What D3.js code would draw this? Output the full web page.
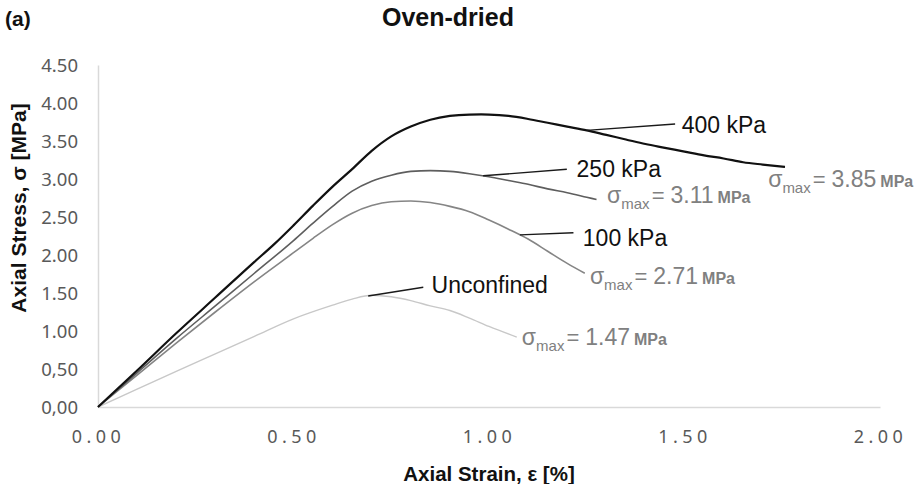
<!DOCTYPE html>
<html>
<head>
<meta charset="utf-8">
<script src="https://cdn.jsdelivr.net/npm/d3@7"></script>
<style>
  html, body { margin: 0; padding: 0; background: #fff; }
  svg { display: block; }
</style>
</head>
<body>
<svg id="chart" width="917" height="484"></svg>
<script>
// ---- data -------------------------------------------------------------
const seriesNames = ["400 kPa", "250 kPa", "100 kPa", "Unconfined"];
const peakStress = [3.85, 3.11, 2.71, 1.47];

const strain400 = [0, 0.1, 0.2, 0.3, 0.4, 0.45, 0.5, 0.55, 0.6, 0.65, 0.7, 0.75, 0.8, 0.85, 0.9, 0.95, 0.98, 1.0, 1.05, 1.1, 1.15, 1.2, 1.25, 1.3, 1.35, 1.4, 1.45, 1.5, 1.55, 1.6, 1.65, 1.7, 1.757];
const stress400 = [0, 0.48, 0.97, 1.44, 1.91, 2.14, 2.39, 2.65, 2.90, 3.13, 3.37, 3.56, 3.69, 3.78, 3.83, 3.848, 3.85, 3.848, 3.83, 3.79, 3.74, 3.69, 3.64, 3.58, 3.52, 3.46, 3.41, 3.36, 3.31, 3.27, 3.22, 3.19, 3.16];

const strain250 = [0, 0.1, 0.2, 0.3, 0.4, 0.5, 0.55, 0.6, 0.65, 0.7, 0.75, 0.8, 0.85, 0.9, 0.95, 1.0, 1.05, 1.1, 1.15, 1.2, 1.25, 1.275];
const stress250 = [0, 0.45, 0.90, 1.33, 1.76, 2.19, 2.42, 2.64, 2.84, 2.97, 3.05, 3.10, 3.11, 3.10, 3.07, 3.03, 2.98, 2.93, 2.87, 2.82, 2.76, 2.73];

const strain100 = [0, 0.1, 0.2, 0.3, 0.4, 0.5, 0.55, 0.6, 0.65, 0.7, 0.75, 0.8, 0.85, 0.9, 0.95, 1.0, 1.05, 1.1, 1.15, 1.2, 1.245];
const stress100 = [0, 0.42, 0.84, 1.25, 1.65, 2.03, 2.22, 2.40, 2.55, 2.65, 2.70, 2.71, 2.69, 2.64, 2.57, 2.46, 2.34, 2.21, 2.05, 1.89, 1.76];

const strainUnc = [0, 0.1, 0.2, 0.3, 0.4, 0.5, 0.6, 0.65, 0.7, 0.75, 0.8, 0.85, 0.9, 0.95, 1.0, 1.071];
const stressUnc = [0, 0.235, 0.47, 0.70, 0.93, 1.16, 1.34, 1.42, 1.47, 1.45, 1.40, 1.33, 1.27, 1.17, 1.06, 0.92];

const xTickValues = [0, 0.5, 1.0, 1.5, 2.0];
const xTickLabels = ["0.00", "0.50", "1.00", "1.50", "2.00"];
const yTickValues = [0, 0.5, 1.0, 1.5, 2.0, 2.5, 3.0, 3.5, 4.0, 4.5];
const yTickLabels = ["0,00", "0,50", "1.00", "1.50", "2.00", "2.50", "3.00", "3.50", "4.00", "4.50"];

// ---- layout / style ---------------------------------------------------
const plot = { left: 98, right: 880, top: 65, bottom: 407 };
const seriesStyle = [
  { color: "#111111", width: 2.2 },
  { color: "#5e5e5e", width: 1.6 },
  { color: "#858585", width: 1.6 },
  { color: "#c8c8c8", width: 1.4 }
];
// label / leader placement in data units
const nameLabelPos = [[1.493, 3.605], [1.224, 3.030], [1.240, 2.118], [0.853, 1.504]];
const leaderFromStrain = [1.25, 0.985, 1.079, 0.691];
const leaderTo = [[1.476, 3.724], [1.199, 3.128], [1.216, 2.293], [0.832, 1.575]];
const peakLabelPos = [[1.714, 2.895], [1.302, 2.690], [1.258, 1.618], [1.084, 0.816]];

const labelFont = "'Noto Sans', 'Liberation Sans', sans-serif";
const textFont = "'Liberation Sans', Arial, sans-serif";

// ---- build ------------------------------------------------------------
const strains = [strain400, strain250, strain100, strainUnc];
const stresses = [stress400, stress250, stress100, stressUnc];
const series = seriesNames.map((name, i) => ({
  name,
  peak: peakStress[i],
  points: strains[i].map((s, j) => [s, stresses[i][j]])
}));

const svg = d3.select("#chart");
const x = d3.scaleLinear().domain([0, 2]).range([plot.left, plot.right]);
const y = d3.scaleLinear().domain([0, 4.5]).range([plot.bottom, plot.top]);

// axes
const xAxis = d3.axisBottom(x).tickValues(xTickValues)
  .tickFormat((d, i) => xTickLabels[i]).tickSize(0).tickSizeOuter(0).tickPadding(23);
const yAxis = d3.axisLeft(y).tickValues(yTickValues)
  .tickFormat((d, i) => yTickLabels[i]).tickSize(0).tickSizeOuter(0).tickPadding(20);

const gx = svg.append("g").attr("transform", `translate(0,${plot.bottom})`).call(xAxis);
const gy = svg.append("g").attr("transform", `translate(${plot.left},0)`).call(yAxis);
[gx, gy].forEach(g => {
  g.select(".domain").attr("stroke", "#d9d9d9").attr("stroke-width", 1.5);
  g.selectAll("text").attr("fill", "#595959").attr("font-family", labelFont);
});
gx.selectAll("text").attr("font-size", 18).attr("letter-spacing", 4.5);
gy.selectAll("text").attr("font-size", 18.5).attr("dy", "0.36em");

// curves
const line = d3.line().x(d => x(d[0])).y(d => y(d[1])).curve(d3.curveMonotoneX);
svg.append("g").selectAll("path")
  .data(series.slice().reverse())
  .join("path")
  .attr("d", d => line(d.points))
  .attr("fill", "none")
  .attr("stroke", d => seriesStyle[seriesNames.indexOf(d.name)].color)
  .attr("stroke-width", d => seriesStyle[seriesNames.indexOf(d.name)].width)
  .attr("stroke-linejoin", "round");

// stress on a curve at a given strain (linear between samples)
function stressAt(pts, s) {
  for (let k = 1; k < pts.length; k++) {
    if (pts[k][0] >= s) {
      const [x0, y0] = pts[k - 1], [x1, y1] = pts[k];
      return y0 + (y1 - y0) * (s - x0) / (x1 - x0);
    }
  }
  return pts[pts.length - 1][1];
}

// leader lines, series names and peak-stress notes
const ann = svg.append("g");
series.forEach((d, i) => {
  const s0 = leaderFromStrain[i];
  ann.append("line")
    .attr("x1", x(s0)).attr("y1", y(stressAt(d.points, s0)))
    .attr("x2", x(leaderTo[i][0])).attr("y2", y(leaderTo[i][1]))
    .attr("stroke", "#1a1a1a").attr("stroke-width", 1.4);
  ann.append("text")
    .attr("x", x(nameLabelPos[i][0])).attr("y", y(nameLabelPos[i][1]))
    .attr("font-family", textFont).attr("font-size", 23)
    .attr("fill", "#111")
    .text(d.name);

  const t = ann.append("text")
    .attr("x", x(peakLabelPos[i][0])).attr("y", y(peakLabelPos[i][1]))
    .attr("font-family", textFont).attr("fill", "#808080");
  t.append("tspan").attr("font-size", 23).text("σ");
  t.append("tspan").attr("font-size", 15).attr("dy", 6).text("max");
  t.append("tspan").attr("font-size", 22).attr("dy", -6).attr("dx", 2).text("=");
  t.append("tspan").attr("font-size", 23).attr("dx", 6).text(d.peak.toFixed(2));
  t.append("tspan").attr("font-size", 16).attr("font-weight", "bold").attr("dx", 4).text("MPa");
});

// titles
svg.append("text").attr("x", 5).attr("y", 26)
  .attr("font-family", textFont).attr("font-weight", "bold").attr("font-size", 21)
  .attr("fill", "#111").text("(a)");
svg.append("text").attr("x", 448).attr("y", 26).attr("text-anchor", "middle")
  .attr("font-family", textFont).attr("font-weight", "bold").attr("font-size", 25)
  .attr("fill", "#111").text("Oven-dried");
svg.append("text").attr("x", 489).attr("y", 481).attr("text-anchor", "middle")
  .attr("font-family", textFont).attr("font-weight", "bold").attr("font-size", 20.5)
  .attr("fill", "#111").text("Axial Strain, ε [%]");
svg.append("text")
  .attr("transform", "translate(26,208) rotate(-90)").attr("text-anchor", "middle")
  .attr("font-family", textFont).attr("font-weight", "bold").attr("font-size", 21)
  .attr("fill", "#111").text("Axial Stress, σ [MPa]");
</script>
</body>
</html>
